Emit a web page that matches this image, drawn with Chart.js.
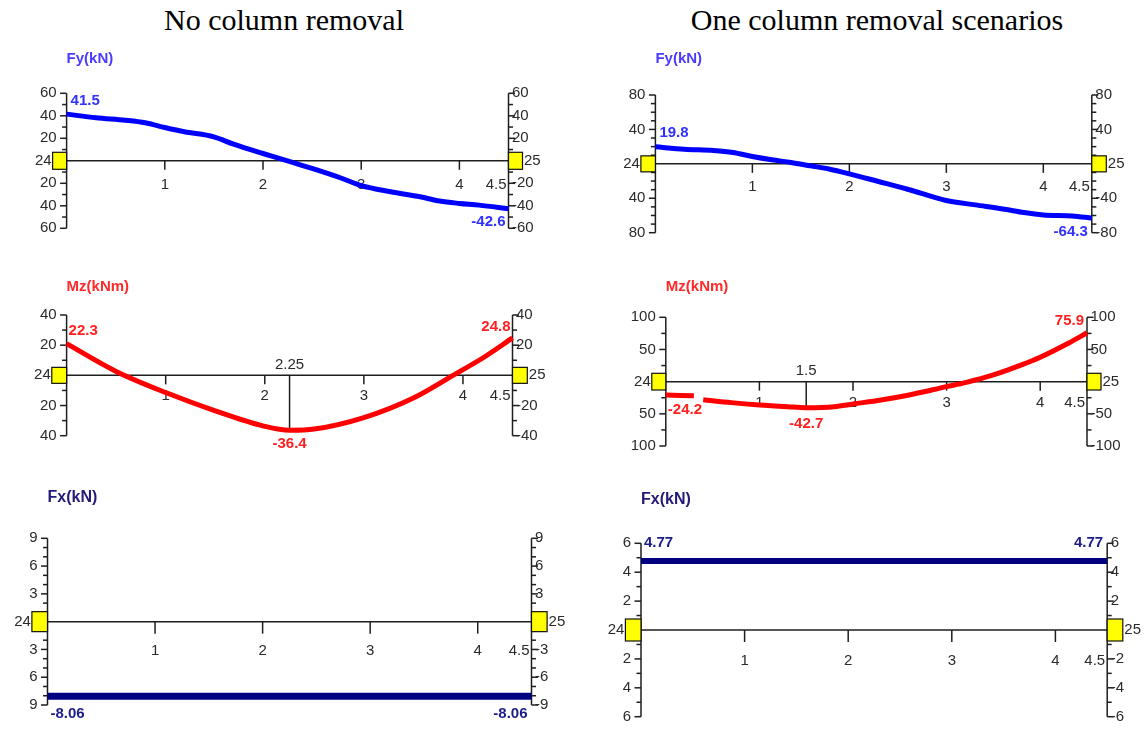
<!DOCTYPE html>
<html><head><meta charset="utf-8">
<script src="https://cdn.jsdelivr.net/npm/chart.js@4/dist/chart.umd.min.js"></script>
<style>
html,body{margin:0;padding:0;background:#fff;}
#wrap{position:relative;width:1148px;height:731px;overflow:hidden;background:#fff;}
canvas{position:absolute;left:0;top:0;}
.title{position:absolute;top:5px;font-family:"Liberation Serif","Times New Roman",serif;font-size:30px;line-height:30px;color:#000;white-space:nowrap;transform:translateX(-50%);}
</style></head><body>
<div id="wrap">
<div class="title" style="left:284px">No column removal</div>
<div class="title" style="left:877px">One column removal scenarios</div>
<canvas id="c1" width="1148" height="731"></canvas>
<canvas id="c2" width="1148" height="731"></canvas>
<canvas id="c3" width="1148" height="731"></canvas>
<canvas id="c4" width="1148" height="731"></canvas>
<canvas id="c5" width="1148" height="731"></canvas>
<canvas id="c6" width="1148" height="731"></canvas>
</div>
<script>
// ---------------- DATA ----------------
const beamStart = 0, beamEnd = 4.5;
const xTickValues = [1, 2, 3, 4];
const xEndLabel = '4.5';
const nodeLabels = ['24', '25'];

// Fy, no column removal
const fyNoRemovalX = [0, 0.3, 0.6, 0.8, 1.0, 1.2, 1.5, 1.7, 2.0, 2.25, 2.5, 2.8, 3.0, 3.3, 3.6, 3.8, 4.0, 4.2, 4.5];
const fyNoRemovalY = [41.5, 38.2, 36, 33.8, 29.6, 25.8, 21.3, 14.8, 6.5, 0, -6.8, -15.5, -22, -27.5, -32, -35.8, -37.9, -39.4, -42.6];
const fyNoRemovalTicks = [60, 40, 20, 0, -20, -40, -60];
const fyNoRemovalMinor = [50, 30, 10, -10, -30, -50];
const fyNoRemovalEndLabels = ['41.5', '-42.6'];

// Fy, one column removal
const fyRemovalX = [0, 0.3, 0.6, 0.8, 1.0, 1.2, 1.4, 1.6, 1.8, 2.0, 2.3, 2.6, 3.0, 3.3, 3.6, 3.8, 4.0, 4.3, 4.5];
const fyRemovalY = [19.8, 17, 15.5, 13.2, 8.5, 4.7, 1.6, -2.3, -6.2, -11.6, -20.5, -29.5, -42.6, -47.7, -52.7, -56.6, -59.3, -60.5, -63];
const fyRemovalTicks = [80, 40, 0, -40, -80];
const fyRemovalMinor = [70, 60, 50, 30, 20, 10, -10, -20, -30, -50, -60, -70];
const fyRemovalEndLabels = ['19.8', '-64.3'];

// Mz, no column removal
const mzNoRemovalX = [0, 0.5, 1.0, 1.5, 2.0, 2.25, 2.5, 3.0, 3.5, 3.9, 4.2, 4.5];
const mzNoRemovalY = [21, 2.6, -11.4, -23.5, -33.8, -36.4, -35.6, -28, -15, 0, 11.5, 24.8];
const mzNoRemovalTicks = [40, 20, 0, -20, -40];
const mzNoRemovalMinor = [30, 10, -10, -30];
const mzNoRemovalEndLabels = ['22.3', '24.8'];
const mzNoRemovalPeak = { x: 2.25, y: -36.4, label: '-36.4', posLabel: '2.25' };

// Mz, one column removal
const mzRemovalX = [0, 0.3, 0.35, 0.4, 0.7, 1.0, 1.3, 1.5, 1.8, 2.0, 2.3, 2.6, 3.0, 3.2, 3.5, 3.8, 4.0, 4.3, 4.5];
const mzRemovalY = [-20.7, -22, null, -28, -32.6, -36.2, -38.9, -40.4, -38.9, -34.7, -28.5, -20.7, -7.8, -1.5, 10.4, 26, 37.9, 59.7, 75.9];
const mzRemovalTicks = [100, 50, 0, -50, -100];
const mzRemovalMinor = [75, 25, -25, -75];
const mzRemovalEndLabels = ['-24.2', '75.9'];
const mzRemovalPeak = { x: 1.5, y: -40.4, label: '-42.7', posLabel: '1.5' };

// Fx, no column removal
const fxNoRemovalX = [0, 4.5];
const fxNoRemovalY = [-8.06, -8.06];
const fxNoRemovalTicks = [9, 6, 3, 0, -3, -6, -9];
const fxNoRemovalMinor = [8, 7, 5, 4, 2, 1, -1, -2, -4, -5, -7, -8];
const fxNoRemovalEndLabels = ['-8.06', '-8.06'];

// Fx, one column removal
const fxRemovalX = [0, 4.5];
const fxRemovalY = [4.77, 4.77];
const fxRemovalTicks = [6, 4, 2, 0, -2, -4, -6];
const fxRemovalMinor = [5, 3, 1, -1, -3, -5];
const fxRemovalEndLabels = ['4.77', '4.77'];

// ---------------- LAYOUT / STYLE ----------------
const W = 1148, H = 731;
const panels = [
  { id: 'c1', title: 'Fy(kN)', titleColor: '#4a3cff', titleFont: 'bold 15px "Liberation Sans", Arial', titleY: 58.5,
    xs: fyNoRemovalX, ys: fyNoRemovalY, ticks: fyNoRemovalTicks, minor: fyNoRemovalMinor,
    color: '#0000ff', labelColor: '#3030ff', lw: 5,
    L: 66.6, R: 508.5, T: 93.3, B: 228.3, sq: [14, 17], xTickLen: 9, xLabelDy: 24,
    labels: [ { text: fyNoRemovalEndLabels[0], i: 0, dx: 4, dy: -13, align: 'left' },
              { text: fyNoRemovalEndLabels[1], i: fyNoRemovalX.length - 1, dx: -3, dy: 13, align: 'right' } ] },
  { id: 'c2', title: 'Fy(kN)', titleColor: '#4a3cff', titleFont: 'bold 15px "Liberation Sans", Arial', titleY: 59,
    xs: fyRemovalX, ys: fyRemovalY, ticks: fyRemovalTicks, minor: fyRemovalMinor,
    color: '#0000ff', labelColor: '#3030ff', lw: 5,
    L: 655.4, R: 1091.8, T: 95, B: 232.7, sq: [14.5, 16], xTickLen: 9, xLabelDy: 23,
    labels: [ { text: fyRemovalEndLabels[0], i: 0, dx: 4, dy: -14, align: 'left' },
              { text: fyRemovalEndLabels[1], i: fyRemovalX.length - 1, dx: -4, dy: 14, align: 'right' } ] },
  { id: 'c3', title: 'Mz(kNm)', titleColor: '#ff2a2a', titleFont: 'bold 15px "Liberation Sans", Arial', titleY: 287,
    xs: mzNoRemovalX, ys: mzNoRemovalY, ticks: mzNoRemovalTicks, minor: mzNoRemovalMinor,
    color: '#ff0000', labelColor: '#ff2020', lw: 5,
    L: 66.6, R: 512.5, T: 315, B: 435.7, sq: [14.8, 16], xTickLen: 9, xLabelDy: 21,
    peak: mzNoRemovalPeak, peakDy: 14, posDy: -10,
    labels: [ { text: mzNoRemovalEndLabels[0], i: 0, dx: 2, dy: -13, align: 'left' },
              { text: mzNoRemovalEndLabels[1], i: mzNoRemovalX.length - 1, dx: -2, dy: -11, align: 'right' } ] },
  { id: 'c4', title: 'Mz(kNm)', titleColor: '#ff2a2a', titleFont: 'bold 15px "Liberation Sans", Arial', titleY: 287,
    xs: mzRemovalX, ys: mzRemovalY, ticks: mzRemovalTicks, minor: mzRemovalMinor,
    color: '#ff0000', labelColor: '#ff2020', lw: 5,
    L: 665.8, R: 1087, T: 317.3, B: 446, sq: [14, 16.7], xTickLen: 9, xLabelDy: 21,
    peak: mzRemovalPeak, peakDy: 16, posDy: -11,
    labels: [ { text: mzRemovalEndLabels[0], i: 0, dx: 2, dy: 15, align: 'left' },
              { text: mzRemovalEndLabels[1], i: mzRemovalX.length - 1, dx: -3, dy: -12, align: 'right' } ] },
  { id: 'c5', title: 'Fx(kN)', titleColor: '#231a78', titleFont: 'bold 16px "Liberation Sans", Arial', titleY: 498,
    xs: fxNoRemovalX, ys: fxNoRemovalY, ticks: fxNoRemovalTicks, minor: fxNoRemovalMinor,
    color: '#000080', labelColor: '#1c1c8c', lw: 7,
    L: 47.5, R: 531.5, T: 538.3, B: 705, sq: [15.6, 20], xTickLen: 12, xLabelDy: 29,
    labels: [ { text: fxNoRemovalEndLabels[0], i: 0, dx: 3, dy: 18, align: 'left' },
              { text: fxNoRemovalEndLabels[1], i: 1, dx: -4, dy: 18, align: 'right' } ] },
  { id: 'c6', title: 'Fx(kN)', titleColor: '#231a78', titleFont: 'bold 16px "Liberation Sans", Arial', titleY: 500,
    xs: fxRemovalX, ys: fxRemovalY, ticks: fxRemovalTicks, minor: fxRemovalMinor,
    color: '#000080', labelColor: '#1c1c8c', lw: 6,
    L: 641, R: 1107.2, T: 543.3, B: 716.7, sq: [15.6, 22], xTickLen: 12, xLabelDy: 31,
    labels: [ { text: fxRemovalEndLabels[0], i: 0, dx: 3, dy: -18, align: 'left' },
              { text: fxRemovalEndLabels[1], i: 1, dx: -4, dy: -18, align: 'right' } ] }
];

const tickFont = '15px "Liberation Sans", Arial';
const tickColor = '#2b2b2b';
const axisColor = '#1e1e1e';

function seg(ctx, x1, y1, x2, y2) { ctx.beginPath(); ctx.moveTo(x1, y1); ctx.lineTo(x2, y2); ctx.stroke(); }

function makeDeco(p) {
  return {
    id: 'deco_' + p.id,
    beforeDatasetsDraw(chart) {
      const ctx = chart.ctx, sx = chart.scales.x, sy = chart.scales.y;
      const L = sx.getPixelForValue(beamStart), R = sx.getPixelForValue(beamEnd);
      const yTop = sy.getPixelForValue(p.ticks[0]), yBot = sy.getPixelForValue(p.ticks[p.ticks.length - 1]);
      const y0 = sy.getPixelForValue(0);
      ctx.save();
      ctx.strokeStyle = axisColor; ctx.lineWidth = 1.5;
      seg(ctx, L, yTop, L, yBot);
      seg(ctx, R, yTop, R, yBot);
      seg(ctx, L, y0, R, y0);
      p.ticks.forEach(v => { if (v === 0) return; const py = sy.getPixelForValue(v); seg(ctx, L - 6.5, py, L, py); seg(ctx, R, py, R + 6.5, py); });
      p.minor.forEach(v => { const py = sy.getPixelForValue(v); seg(ctx, L - 4.5, py, L, py); seg(ctx, R, py, R + 4.5, py); });
      xTickValues.forEach(v => { const px = sx.getPixelForValue(v); seg(ctx, px, y0, px, y0 + p.xTickLen); });
      if (p.peak) {
        const px = sx.getPixelForValue(p.peak.x);
        seg(ctx, px, y0, px, sy.getPixelForValue(p.peak.y));
      }
      ctx.font = tickFont; ctx.fillStyle = tickColor; ctx.textBaseline = 'middle';
      p.ticks.forEach(v => {
        if (v === 0) return;
        const py = sy.getPixelForValue(v);
        ctx.textAlign = 'right'; ctx.fillText(String(Math.abs(v)), L - 10, py);
        ctx.textAlign = 'left'; ctx.fillText(String(v), R + 3.5, py);
      });
      ctx.textAlign = 'center';
      xTickValues.forEach(v => { ctx.fillText(String(v), sx.getPixelForValue(v), y0 + p.xLabelDy); });
      ctx.textAlign = 'right';
      ctx.fillText(xEndLabel, R - 2, y0 + p.xLabelDy);
      if (p.peak) {
        ctx.textAlign = 'center';
        ctx.fillText(p.peak.posLabel, sx.getPixelForValue(p.peak.x), y0 + p.posDy);
      }
      ctx.restore();
    },
    afterDatasetsDraw(chart) {
      const ctx = chart.ctx, sx = chart.scales.x, sy = chart.scales.y;
      const L = sx.getPixelForValue(beamStart), R = sx.getPixelForValue(beamEnd);
      const y0 = sy.getPixelForValue(0);
      const [sw, sh] = p.sq;
      ctx.save();
      ctx.fillStyle = '#ffff00'; ctx.strokeStyle = '#111'; ctx.lineWidth = 1.2;
      ctx.fillRect(L - sw, y0 - sh / 2, sw, sh); ctx.strokeRect(L - sw, y0 - sh / 2, sw, sh);
      ctx.fillRect(R, y0 - sh / 2, sw, sh); ctx.strokeRect(R, y0 - sh / 2, sw, sh);
      ctx.font = tickFont; ctx.fillStyle = tickColor; ctx.textBaseline = 'middle';
      ctx.textAlign = 'right'; ctx.fillText(nodeLabels[0], L - sw - 1, y0);
      ctx.textAlign = 'left'; ctx.fillText(nodeLabels[1], R + sw + 1.5, y0);
      ctx.font = 'bold 15px "Liberation Sans", Arial'; ctx.fillStyle = p.labelColor;
      p.labels.forEach(lb => {
        const px = sx.getPixelForValue(p.xs[lb.i]), py = sy.getPixelForValue(p.ys[lb.i]);
        ctx.textAlign = lb.align; ctx.fillText(lb.text, px + lb.dx, py + lb.dy);
      });
      if (p.peak) {
        ctx.textAlign = 'center';
        ctx.fillText(p.peak.label, sx.getPixelForValue(p.peak.x), sy.getPixelForValue(p.peak.y) + p.peakDy);
      }
      ctx.font = p.titleFont; ctx.fillStyle = p.titleColor; ctx.textAlign = 'left';
      ctx.fillText(p.title, L, p.titleY);
      ctx.restore();
    }
  };
}

panels.forEach(p => {
  const ymax = p.ticks[0], ymin = p.ticks[p.ticks.length - 1];
  new Chart(document.getElementById(p.id), {
    type: 'line',
    data: { datasets: [{
      data: p.xs.map((x, i) => ({ x: x, y: p.ys[i] })),
      borderColor: p.color, borderWidth: p.lw, pointRadius: 0, fill: false,
      cubicInterpolationMode: 'monotone', spanGaps: false, clip: false, borderCapStyle: 'butt'
    }] },
    options: {
      responsive: false, animation: false, devicePixelRatio: 1,
      layout: { padding: { left: p.L, right: W - p.R, top: p.T, bottom: H - p.B } },
      scales: {
        x: { type: 'linear', min: beamStart, max: beamEnd, display: false },
        y: { type: 'linear', min: ymin, max: ymax, display: false }
      },
      plugins: { legend: { display: false }, tooltip: { enabled: false }, title: { display: false } },
      events: []
    },
    plugins: [makeDeco(p)]
  });
});
</script>
</body></html>
